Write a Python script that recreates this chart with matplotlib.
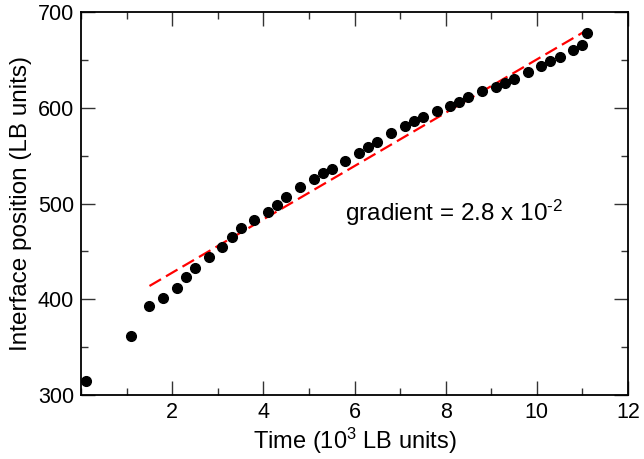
import matplotlib.pyplot as plt
from matplotlib.ticker import MultipleLocator

plt.rcParams["font.family"] = ["Liberation Sans", "DejaVu Sans"]
plt.rcParams["mathtext.fontset"] = "custom"
plt.rcParams["mathtext.rm"] = "Liberation Sans"
plt.rcParams["mathtext.it"] = "Liberation Sans:italic"
plt.rcParams["mathtext.bf"] = "Liberation Sans:bold"

# =========================
# data
# =========================
time_k = [0.1, 1.1, 1.5, 1.8, 2.1, 2.3, 2.5, 2.8, 3.1, 3.3, 3.5, 3.8,
          4.1, 4.3, 4.5, 4.8, 5.1, 5.3, 5.5, 5.8, 6.1, 6.3, 6.5, 6.8,
          7.1, 7.3, 7.5, 7.8, 8.1, 8.3, 8.5, 8.8, 9.1, 9.3, 9.5, 9.8,
          10.1, 10.3, 10.5, 10.8, 11.0, 11.1]
position = [315, 362, 393, 401.5, 411.5, 423, 433, 444.5, 455, 465, 474, 483,
            491, 498.5, 507, 517, 526, 531.5, 536, 544, 553, 559, 564, 573.5,
            581, 586, 590.5, 596.5, 601.5, 606, 611, 617, 621.5, 626, 630.5, 637,
            644, 648.5, 653, 660, 665, 678]

fit_x = [1.5, 11.1]
fit_y = [414, 681]

x_ticks = [2, 4, 6, 8, 10, 12]
y_ticks = [300, 400, 500, 600, 700]

# =========================
# figure
# =========================
fig = plt.figure(figsize=(6.44, 4.59), dpi=100)
ax = fig.add_axes([0.126, 0.139, 0.849, 0.835])

ax.plot(fit_x, fit_y, color="#ff0000", lw=1.6, dashes=(6, 2.6), zorder=2)
ax.plot(time_k, position, "o", color="black", ms=7, zorder=3)

ax.set_xlim(0, 12)
ax.set_ylim(300, 700)
ax.set_xticks(x_ticks)
ax.set_yticks(y_ticks)
ax.xaxis.set_minor_locator(MultipleLocator(1))
ax.yaxis.set_minor_locator(MultipleLocator(50))

ax.tick_params(which="both", direction="in", top=True, right=True,
               labelsize=15.5, width=1, color="#333333", pad=5)
ax.tick_params(which="major", length=10)
ax.tick_params(which="minor", length=5)
for s in ax.spines.values():
    s.set_linewidth(1.3)

ax.set_xlabel("Time (10$^{3}$ LB units)", fontsize=17, labelpad=2)
ax.set_ylabel("Interface position (LB units)", fontsize=17.5, labelpad=4)

ax.text(5.8, 490, "gradient = 2.8 x 10$^{\u2010 2}$", fontsize=17.5,
        va="center", ha="left")

fig.savefig("out.png", dpi=100)
